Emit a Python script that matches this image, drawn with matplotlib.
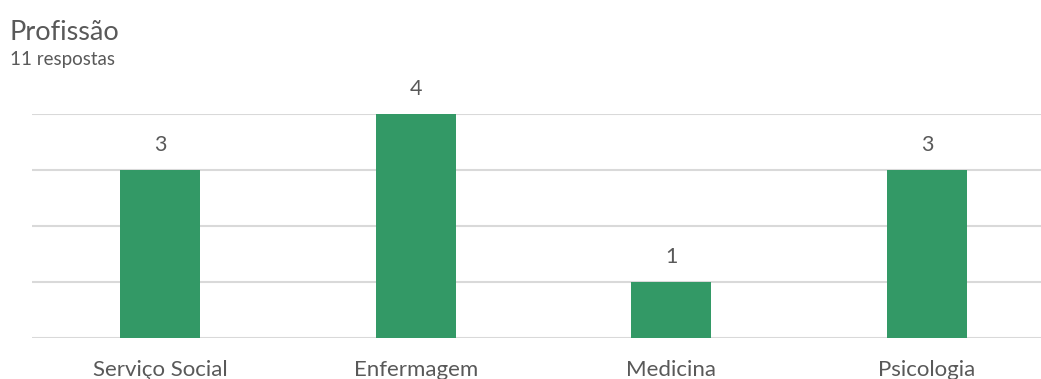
import matplotlib
matplotlib.use('Agg')
import matplotlib.pyplot as plt
import numpy as np

# Data
categories = ['Serviço Social', 'Enfermagem', 'Medicina', 'Psicologia']
counts = [3, 4, 1, 3]
total = 11

barColor = '#339966'
textColor = '#595959'
gridColor = '#d9d9d9'

plt.rcParams['font.family'] = ['Lato', 'DejaVu Sans']

fig = plt.figure(figsize=(10.41, 3.79), dpi=100)
ax = fig.add_axes([32 / 1041, 41 / 379, 1023 / 1041, 224 / 379])

inds = np.arange(len(categories))
ax.bar(inds, counts, width=80 / 255.75, color=barColor, zorder=3)
for i, v in zip(inds, counts):
    ax.text(i, v + 0.26, str(v), ha='center', va='bottom', fontsize=15.5,
            color=textColor, clip_on=False)

ax.set_xlim(-0.5, len(categories) - 0.5)
ax.set_ylim(0, 4)
ax.set_yticks(range(0, 5))
ax.yaxis.grid(True, color=gridColor, linewidth=1.5, zorder=0)
ax.tick_params(axis='y', left=False, labelleft=False)
ax.tick_params(axis='x', bottom=False, labelsize=16, labelcolor=textColor, pad=12)
ax.set_xticks(inds)
ax.set_xticklabels(categories)
for s in ax.spines.values():
    s.set_visible(False)

fig.text(10 / 1041, 1 - 32 / 379, 'Profissão', fontsize=19.5, color=textColor, va='center')
fig.text(10 / 1041, 1 - 59 / 379, str(total) + ' respostas', fontsize=13.5, color=textColor, va='center')

fig.savefig('out.png', dpi=100)
